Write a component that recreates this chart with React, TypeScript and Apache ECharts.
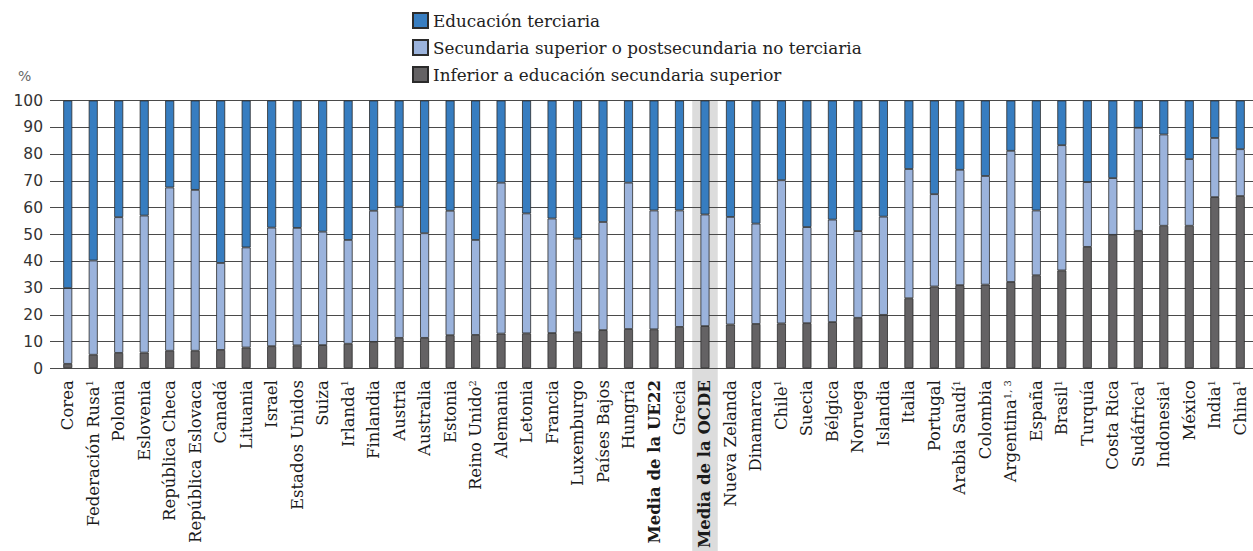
import React, { useEffect, useRef } from "react";
import * as echarts from "echarts";

const categories = [
  "Corea", "Federación Rusa", "Polonia", "Eslovenia", "República Checa", "República Eslovaca",
  "Canadá", "Lituania", "Israel", "Estados Unidos", "Suiza", "Irlanda", "Finlandia", "Austria",
  "Australia", "Estonia", "Reino Unido", "Alemania", "Letonia", "Francia", "Luxemburgo",
  "Países Bajos", "Hungría", "Media de la UE22", "Grecia", "Media de la OCDE", "Nueva Zelanda",
  "Dinamarca", "Chile", "Suecia", "Bélgica", "Noruega", "Islandia", "Italia", "Portugal",
  "Arabia Saudí", "Colombia", "Argentina", "España", "Brasil", "Turquía", "Costa Rica",
  "Sudáfrica", "Indonesia", "México", "India", "China",
];

const notes: Record<string, string> = {
  "Federación Rusa": "1", "Irlanda": "1", "Reino Unido": "2", "Chile": "1", "Arabia Saudí": "1",
  "Argentina": "1, 3", "Brasil": "1", "Sudáfrica": "1", "Indonesia": "1", "India": "1", "China": "1",
};

const boldCategories = ["Media de la UE22", "Media de la OCDE"];
const highlightCategory = "Media de la OCDE";

const lowerSecondary = [
  1.6, 5.0, 5.7, 5.8, 6.5, 6.5, 6.8, 7.7, 8.2, 8.5,
  8.6, 9.1, 9.8, 11.3, 11.3, 12.3, 12.4, 12.9, 13.0, 13.1,
  13.4, 14.2, 14.6, 14.5, 15.4, 15.7, 16.3, 16.5, 16.7, 16.8,
  17.2, 18.8, 19.9, 26.1, 30.5, 31.0, 31.2, 32.2, 34.7, 36.5,
  45.3, 49.8, 51.3, 53.2, 53.2, 63.9, 64.3,
];

const upperSecondary = [
  28.3, 35.2, 50.7, 51.2, 61.0, 60.1, 32.5, 37.4, 44.3, 43.9,
  42.4, 38.8, 49.0, 49.0, 39.1, 46.5, 35.5, 56.4, 44.8, 42.8,
  35.0, 40.4, 54.7, 44.4, 43.5, 41.7, 40.2, 37.5, 53.5, 35.9,
  38.3, 32.4, 36.7, 48.3, 34.5, 43.1, 40.6, 49.0, 24.2, 46.8,
  24.2, 21.2, 38.5, 34.1, 24.9, 22.1, 17.5,
];

const tertiary = [
  70.1, 59.8, 43.6, 43.0, 32.5, 33.4, 60.7, 54.9, 47.5, 47.6,
  49.0, 52.1, 41.2, 39.7, 49.6, 41.2, 52.1, 30.7, 42.2, 44.1,
  51.6, 45.4, 30.7, 41.1, 41.1, 42.6, 43.5, 46.0, 29.8, 47.3,
  44.5, 48.8, 43.4, 25.6, 35.0, 25.9, 28.2, 18.8, 41.1, 16.7,
  30.5, 29.0, 10.2, 12.7, 21.9, 14.0, 18.2,
];

const seriesNames = {
  tertiary: "Educación terciaria",
  upper: "Secundaria superior o postsecundaria no terciaria",
  lower: "Inferior a educación secundaria superior",
};

const yTicks = { min: 0, max: 100, interval: 10 };

const SERIF = "DejaVu Serif";
const SANS = "DejaVu Sans";

export default function App() {
  const ref = useRef<HTMLDivElement>(null);

  useEffect(() => {
    document.body.style.margin = "0";
    if (!ref.current) return;
    const chart = echarts.init(ref.current, undefined, { renderer: "svg" });

    const barBase = {
      type: "bar" as const,
      stack: "total",
      barWidth: 9,
      xAxisIndex: 0,
      yAxisIndex: 0,
      itemStyle: { borderColor: "#2b2b2b", borderWidth: 0.8 },
      emphasis: { disabled: true },
    };

    const option: any = {
      animation: false,
      backgroundColor: "#ffffff",
      grid: [
        { left: 55, top: 100.5, width: 1201, height: 268 },
        { left: 50, top: 100.5, width: 1203, height: 268 },
      ],
      legend: {
        orient: "vertical",
        left: 407,
        top: 7,
        itemWidth: 15,
        itemHeight: 15,
        itemGap: 10,
        icon: "rect",
        data: [seriesNames.tertiary, seriesNames.upper, seriesNames.lower],
        textStyle: { fontFamily: SERIF, fontSize: 16.8, color: "#222" },
        selectedMode: false,
      },
      xAxis: [
        {
          type: "category",
          gridIndex: 0,
          data: categories,
          axisTick: { show: false },
          axisLine: { show: false },
          axisLabel: {
            interval: 0,
            rotate: 90,
            margin: 12,
            formatter: (v: string) => {
              const main = boldCategories.includes(v) ? `{b|${v}}` : `{n|${v}}`;
              return notes[v] ? `${main}{s|${notes[v]}}` : main;
            },
            rich: {
              n: { fontFamily: SERIF, fontSize: 16.5, color: "#1a1a1a" },
              b: { fontFamily: SERIF, fontSize: 16.5, fontWeight: "bold", color: "#1a1a1a" },
              s: { fontFamily: SERIF, fontSize: 10, color: "#1a1a1a", verticalAlign: "top" },
            },
          },
        },
        { type: "value", gridIndex: 1, min: 0, max: 1, show: false },
      ],
      yAxis: [
        {
          type: "value",
          gridIndex: 0,
          min: yTicks.min,
          max: yTicks.max,
          interval: yTicks.interval,
          show: false,
          splitLine: { show: false },
        },
        {
          type: "value",
          gridIndex: 1,
          min: yTicks.min,
          max: yTicks.max,
          interval: yTicks.interval,
          axisLine: { show: false },
          axisTick: { show: false },
          axisLabel: { fontFamily: SANS, fontSize: 15.5, color: "#333", margin: 7 },
          splitLine: { show: true, lineStyle: { color: "#4a4a4a", width: 1 } },
        },
      ],
      graphic: [
        {
          type: "text",
          left: 18,
          top: 69,
          style: { text: "%", fontFamily: SANS, fontSize: 14, fill: "#666" },
        },
      ],
      series: [
        { ...barBase, name: seriesNames.lower, data: lowerSecondary, itemStyle: { ...barBase.itemStyle, color: "#646264" } },
        { ...barBase, name: seriesNames.upper, data: upperSecondary, itemStyle: { ...barBase.itemStyle, color: "#9bb3dc" } },
        { ...barBase, name: seriesNames.tertiary, data: tertiary, itemStyle: { ...barBase.itemStyle, color: "#377dc0" } },
      ],
    };

    chart.setOption(option);

    const idx = categories.indexOf(highlightCategory);
    const cx = chart.convertToPixel({ xAxisIndex: 0 }, idx) as number;
    const cxNext = chart.convertToPixel({ xAxisIndex: 0 }, idx + 1) as number;
    const bw = cxNext - cx;
    const yTop = chart.convertToPixel({ yAxisIndex: 0 }, yTicks.max) as number;
    chart.setOption({
      graphic: [
        option.graphic[0],
        {
          type: "rect",
          z: -10,
          silent: true,
          shape: { x: cx - bw / 2, y: yTop, width: bw, height: 551 - yTop },
          style: { fill: "#dcdcdc" },
        },
      ],
    });

    return () => chart.dispose();
  }, []);

  return <div ref={ref} style={{ width: 1253, height: 551 }} />;
}
